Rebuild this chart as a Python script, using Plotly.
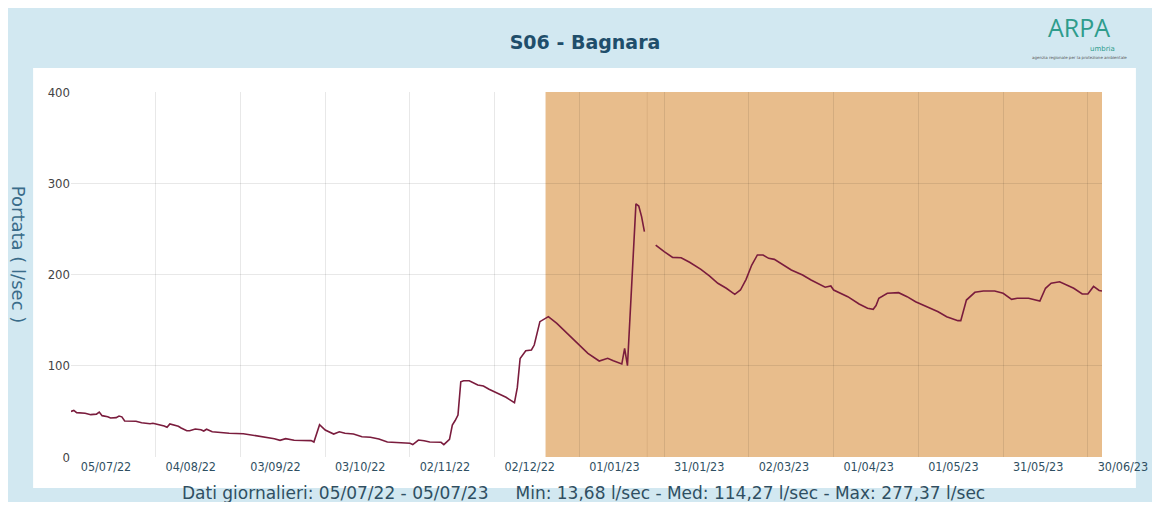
import pandas as pd
import plotly.graph_objects as go

# giorni dal 05/07/22 e portata (l/sec)
giorni = [0, 1, 2, 5, 7, 9, 10, 11, 13, 14, 16, 17, 18, 19, 23, 25, 28, 29, 33, 34,
          35, 38, 39, 41, 42, 44, 46, 47, 48, 50, 54, 56, 61, 64, 68, 72, 74, 76, 79, 84,
          85, 86, 88, 90, 93, 95, 97, 100, 103, 106, 109, 112, 116, 120, 121, 123, 125, 127, 131, 132,
          134, 135, 136, 137, 138, 139, 141, 144, 146, 148, 151, 154, 157, 158, 159, 161, 163, 164, 166, 169,
          172, 177, 180, 183, 187, 190, 192, 195, 196, 197, 200, 201, 202, 203, 204, 207, 210, 213, 216, 219,
          223, 226, 229, 232, 234, 235, 237, 239, 241, 243, 245, 247, 249, 253, 255, 259, 262, 267, 269, 270,
          275, 279, 282, 284, 285, 286, 289, 293, 296, 299, 303, 307, 310, 314, 315, 317, 320, 323, 327, 330,
          333, 335, 339, 343, 345, 347, 350, 352, 355, 358, 360, 362, 364, 365]
portata = [50.0, 51.0, 48.6, 47.9, 46.4, 47.0, 49.3, 45.3, 44.2, 42.7, 43.1, 44.9, 44.0, 39.5, 39.1, 37.6, 36.5, 36.9, 34.0, 32.5,
           36.2, 33.6, 31.8, 28.8, 28.8, 30.7, 29.9, 28.5, 30.4, 27.7, 26.6, 26.0, 25.5, 24.1, 22.2, 20.1, 18.3, 20.1, 18.3, 18.3,
           18.0, 16.4, 35.4, 29.6, 25.2, 27.7, 26.0, 25.2, 22.2, 21.6, 19.7, 16.4, 15.7, 15.0, 13.68, 18.6, 17.9, 16.4, 16.1, 13.5,
           19.4, 35.0, 40.0, 46.0, 82.5, 83.6, 83.6, 78.9, 77.8, 74.2, 69.8, 65.4, 59.5, 76.0, 108.0, 116.5, 117.3, 122.7, 148.3, 153.8,
           146.5, 131.8, 122.7, 113.6, 105.2, 108.2, 105.5, 101.9, 119.1, 100.1, 277.37, 275.0, 263.4, 246.9, None, 232.3, 225.0, 218.8, 218.4, 213.4,
           205.7, 198.4, 190.4, 184.9, 180.5, 178.3, 183.0, 194.7, 210.4, 221.4, 221.4, 217.7, 216.6, 209.3, 204.9, 199.5, 194.0, 186.0, 187.4, 183.0,
           175.7, 167.7, 163.0, 161.9, 166.0, 174.0, 179.4, 180.1, 175.7, 170.2, 164.7, 159.2, 153.8, 149.4, 149.4, 172.0, 180.5, 181.9, 181.9, 179.4,
           172.8, 173.9, 173.9, 171.0, 184.9, 190.4, 192.1, 189.3, 184.9, 178.6, 178.6, 186.9, 182.5, 181.9]

inizio = pd.Timestamp("2022-07-05")
date = [inizio + pd.Timedelta(days=g) for g in giorni]

periodo = ("2022-12-20", "2023-07-05")
linea_periodo = "2023-01-25"

# la pagina ha 8px di margine: la figura sta nella finestra 1160x510 senza barre
W, H = 1152, 494
L, R, T, B = 63, 55, 84, 45
pw, ph = W - L - R, H - T - B


def px(x):  # pixel orizzontale della figura -> coordinata paper
    return (x - L) / pw


def py(y):  # pixel verticale della figura -> coordinata paper
    return (H - B - y) / ph


fig = go.Figure()
fig.add_trace(go.Scatter(x=date, y=portata, mode="lines", connectgaps=False,
                         line=dict(color="#7a1c3d", width=1.6),
                         hovertemplate="%{x|%d/%m/%y}<br>%{y:.2f} l/sec<extra></extra>"))

# pannello bianco
fig.add_shape(type="rect", xref="paper", yref="paper", layer="below",
              x0=px(25), x1=px(1131), y0=py(480), y1=py(60),
              fillcolor="white", line=dict(width=0))
# periodo evidenziato
fig.add_shape(type="rect", xref="x", yref="y", layer="below",
              x0=periodo[0], x1=periodo[1], y0=0, y1=400,
              fillcolor="#e8bd8c", line=dict(width=0))
fig.add_shape(type="line", xref="x", yref="y", layer="below",
              x0=linea_periodo, x1=linea_periodo, y0=0, y1=400,
              line=dict(color="rgba(150,100,60,0.15)", width=1))

fig.update_layout(
    width=W, height=H,
    paper_bgcolor="#d2e8f1", plot_bgcolor="rgba(0,0,0,0)",
    margin=dict(l=L, r=R, t=T, b=B),
    showlegend=False,
    title=dict(text="<b>S06 - Bagnara</b>", x=577 / W, xanchor="center", y=1 - 34 / H, yanchor="middle",
               font=dict(family="DejaVu Sans", size=19, color="#1f4e6b")),
    font=dict(family="DejaVu Sans Condensed", size=12, color="#555555"),
)
fig.update_xaxes(
    type="date", range=["2022-07-05", "2023-07-05"],
    tick0="2022-07-05", dtick=30 * 86400000, tickformat="%d/%m/%y",
    ticklabelshift=35, ticklabeloverflow="allow", ticks="", showline=False, zeroline=False,
    showgrid=True, gridcolor="rgba(0,0,0,0.09)", gridwidth=1,
    tickfont=dict(family="DejaVu Sans Condensed", size=12.5, color="#2f4f62"),
)
fig.update_yaxes(
    range=[0, 400], tick0=0, dtick=100, ticks="", showline=False, zeroline=False,
    showgrid=True, gridcolor="rgba(0,0,0,0.09)", gridwidth=1,
    tickfont=dict(family="DejaVu Sans Condensed", size=13, color="#444444"),
)

fig.add_annotation(text="Portata ( l/sec )", textangle=90, xref="paper", yref="paper",
                   x=px(10), y=py(246), xanchor="center", yanchor="middle", showarrow=False,
                   font=dict(family="DejaVu Sans", size=18, color="#3a6c8a"))
fig.add_annotation(text="Dati giornalieri: 05/07/22 - 05/07/23&nbsp;&nbsp;&nbsp;&nbsp;&nbsp;Min: 13,68 l/sec - Med: 114,27 l/sec - Max: 277,37 l/sec",
                   xref="paper", yref="paper", x=px(577), y=py(485),
                   xanchor="center", yanchor="middle", showarrow=False,
                   font=dict(family="DejaVu Sans", size=17, color="#2f4f62"))
# logo
fig.add_annotation(text="ARPA", xref="paper", yref="paper", x=px(1074), y=py(19),
                   xanchor="center", yanchor="middle", showarrow=False,
                   font=dict(family="Open Sans", size=25, color="#2e9c8c"))
fig.add_annotation(text="umbria", xref="paper", yref="paper", x=px(1112), y=py(41),
                   xanchor="right", yanchor="middle", showarrow=False,
                   font=dict(family="DejaVu Sans", size=7, color="#2e9c8c"))
fig.add_annotation(text="agenzia regionale per la protezione ambientale", xref="paper", yref="paper",
                   x=px(1074), y=py(49), xanchor="center", yanchor="middle", showarrow=False,
                   font=dict(family="DejaVu Sans", size=4, color="#555555"))

fig.write_html("out.html")
